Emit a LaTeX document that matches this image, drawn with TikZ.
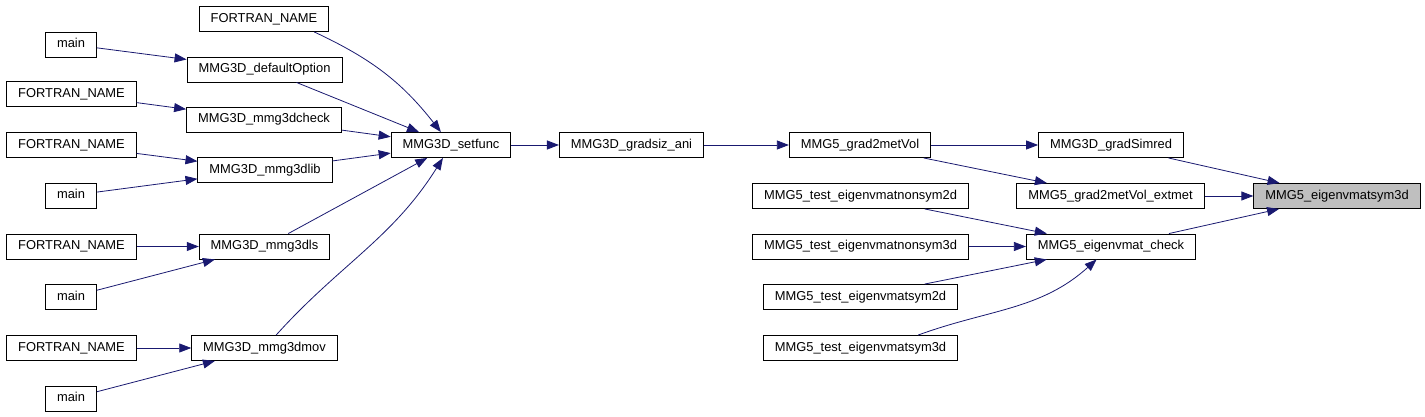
\documentclass[tikz,border=0pt]{standalone}
\usepackage{fontspec}
\setmainfont{Liberation Sans}
\usetikzlibrary{arrows.meta}
\definecolor{edgeblue}{HTML}{191970}
\definecolor{focusgray}{HTML}{BFBFBF}

\begin{document}
\begin{tikzpicture}[
  x=1pt, y=-1pt,
  fn/.style    = {rectangle, draw=black, line width=0.9pt, fill=white,
                  minimum height=25pt, inner xsep=11.5pt, inner ysep=0pt,
                  text height=9.3pt, text depth=2.7pt,
                  font=\fontsize{12.9}{15}\selectfont},
  focus/.style = {fn, fill=focusgray},
  arr/.style   = {-{Triangle[length=12pt,width=9pt]}, draw=edgeblue,
                  line width=0.8pt},
]
\useasboundingbox (0,0) rectangle (1425,417);

% callers on the far left
\node[fn] (mainA) at (71,44.5)  {main};
\node[fn] (fB)    at (71.5,94)  {FORTRAN\_NAME};
\node[fn] (fC)    at (71.5,145) {FORTRAN\_NAME};
\node[fn] (mainB) at (71,195.5) {main};
\node[fn] (fD)    at (71.5,246.5) {FORTRAN\_NAME};
\node[fn] (mainC) at (71,297)   {main};
\node[fn] (fE)    at (71.5,348) {FORTRAN\_NAME};
\node[fn] (mainD) at (71,398.5) {main};

% library entry points
\node[fn] (ftop)    at (264,19)     {FORTRAN\_NAME};
\node[fn] (defopt)  at (264.5,69.5) {MMG3D\_defaultOption};
\node[fn] (check3d) at (264,119.5)  {MMG3D\_mmg3dcheck};
\node[fn] (lib3d)   at (265,170)    {MMG3D\_mmg3dlib};
\node[fn] (ls3d)    at (264.5,246.5) {MMG3D\_mmg3dls};
\node[fn] (mov3d)   at (264.5,348)  {MMG3D\_mmg3dmov};

% main chain
\node[fn] (setfunc) at (451,145)   {MMG3D\_setfunc};
\node[fn] (gradsiz) at (631.5,145) {MMG3D\_gradsiz\_ani};
\node[fn] (g2m)     at (860,145)   {MMG5\_grad2metVol};
\node[fn] (nsym2d)  at (860.5,196) {MMG5\_test\_eigenvmatnonsym2d};
\node[fn] (nsym3d)  at (860.5,246.5) {MMG5\_test\_eigenvmatnonsym3d};
\node[fn] (tsym2d)  at (860.5,297) {MMG5\_test\_eigenvmatsym2d};
\node[fn] (tsym3d)  at (860.5,348) {MMG5\_test\_eigenvmatsym3d};
\node[fn] (simred)  at (1111,145)  {MMG3D\_gradSimred};
\node[fn] (extmet)  at (1110.5,196) {MMG5\_grad2metVol\_extmet};
\node[fn] (evcheck) at (1111,246.5) {MMG5\_eigenvmat\_check};
\node[focus] (evsym3d) at (1337,196) {MMG5\_eigenvmatsym3d};

% edges
\draw[arr] (mainA) -- (defopt);
\draw[arr] (fB)    -- (check3d);
\draw[arr] (fC)    -- (lib3d);
\draw[arr] (mainB) -- (lib3d);
\draw[arr] (fD)    -- (ls3d);
\draw[arr] (mainC) -- (ls3d);
\draw[arr] (fE)    -- (mov3d);
\draw[arr] (mainD) -- (mov3d);

\draw[arr] ([xshift=-15pt]ftop.south east) to[out=-25, in=128] (setfunc);
\draw[arr] (defopt)  -- (setfunc);
\draw[arr] (check3d) -- (setfunc);
\draw[arr] (lib3d)   -- (setfunc);
\draw[arr] (ls3d)    -- (setfunc);
\draw[arr] (mov3d)   to[out=48, in=-122] (setfunc);

\draw[arr] (setfunc) -- (gradsiz);
\draw[arr] (gradsiz) -- (g2m);
\draw[arr] (g2m)     -- (simred);
\draw[arr] (g2m)     -- (extmet);
\draw[arr] (nsym2d)  -- (evcheck);
\draw[arr] (nsym3d)  -- (evcheck);
\draw[arr] (tsym2d)  -- (evcheck);
\draw[arr] ([xshift=-40pt]tsym3d.north east) to[out=20, in=-138] (evcheck);

\draw[arr] (simred)  -- (evsym3d);
\draw[arr] (extmet)  -- (evsym3d);
\draw[arr] (evcheck) -- (evsym3d);
\end{tikzpicture}
\end{document}
